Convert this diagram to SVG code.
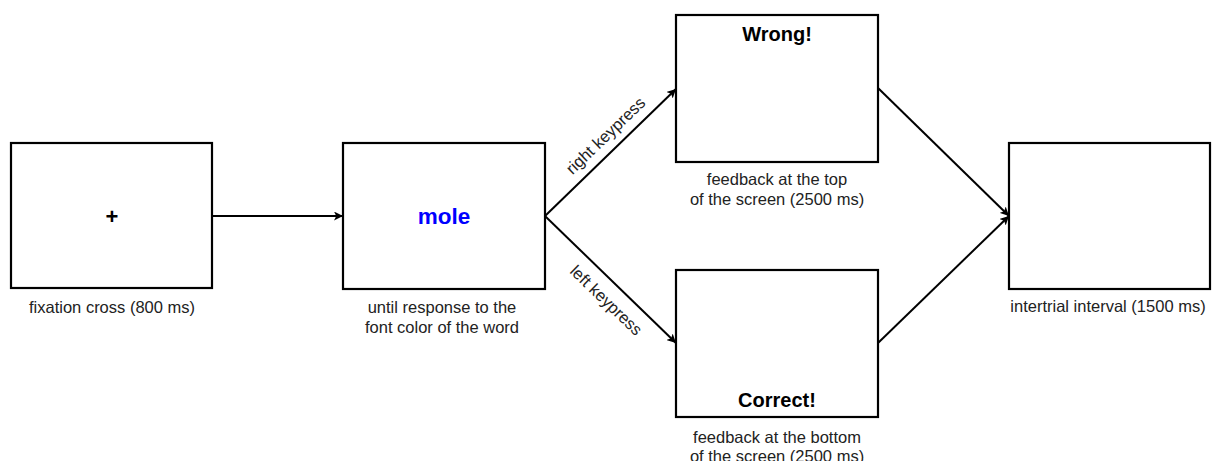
<svg xmlns="http://www.w3.org/2000/svg" width="1216" height="461" viewBox="0 0 1216 461">
<style>
.box{fill:#fff;stroke:#000;stroke-width:2.2}
.lbl{font-family:"Liberation Sans",Arial,sans-serif;font-size:16.5px;fill:#222;text-anchor:middle}
.big{font-family:"Liberation Sans",Arial,sans-serif;font-weight:bold;text-anchor:middle;fill:#000}
.edge{stroke:#000;stroke-width:2;fill:none;marker-end:url(#ah)}
</style>
<defs>
<marker id="ah" viewBox="0 0 10 10" refX="10" refY="5" markerWidth="4.5" markerHeight="4.5" orient="auto" markerUnits="strokeWidth">
<path d="M0,0 L10,5 L0,10 L2.5,5 Z" fill="#000"/>
</marker>
</defs>
<rect width="1216" height="461" fill="#fff"/>
<g id="connectors">
<line class="edge" x1="212" y1="216" x2="343" y2="216"/>
<line class="edge" x1="545" y1="216" x2="676" y2="89"/>
<line class="edge" x1="545" y1="216" x2="676" y2="343"/>
<line class="edge" x1="878" y1="88" x2="1009" y2="216"/>
<line class="edge" x1="878" y1="343" x2="1009" y2="216"/>
<text class="lbl" transform="translate(609.5,139.6) rotate(-43.88)">right keypress</text>
<text class="lbl" transform="translate(602.3,304.4) rotate(43.88)">left keypress</text>
</g>
<g id="fixation">
<rect class="box" x="11" y="143" width="201" height="145"/>
<text class="big" x="112" y="224" font-size="22">+</text>
<text class="lbl" x="112" y="313">fixation cross (800 ms)</text>
</g>
<g id="stimulus">
<rect class="box" x="343" y="143" width="202" height="146"/>
<text class="big" x="444" y="224" font-size="22.5" style="fill:#0000ff">mole</text>
<text class="lbl" x="442" y="313">until response to the</text>
<text class="lbl" x="442" y="333">font color of the word</text>
</g>
<g id="wrong">
<rect class="box" x="676" y="15" width="202" height="147"/>
<text class="big" x="777" y="40.5" font-size="20">Wrong!</text>
<text class="lbl" x="777" y="185">feedback at the top</text>
<text class="lbl" x="777" y="205">of the screen (2500 ms)</text>
</g>
<g id="correct">
<rect class="box" x="676" y="270" width="202" height="147"/>
<text class="big" x="777" y="407" font-size="20">Correct!</text>
<text class="lbl" x="777" y="442.5">feedback at the bottom</text>
<text class="lbl" x="777" y="461.5">of the screen (2500 ms)</text>
</g>
<g id="iti">
<rect class="box" x="1009" y="143" width="201" height="146"/>
<text class="lbl" x="1108" y="312">intertrial interval (1500 ms)</text>
</g>
</svg>
